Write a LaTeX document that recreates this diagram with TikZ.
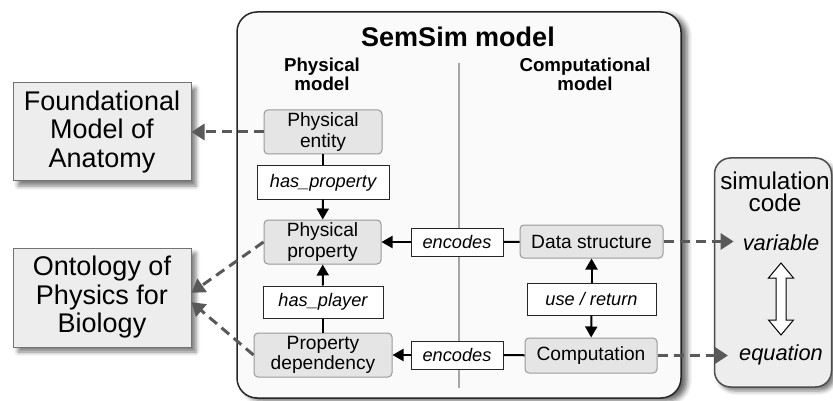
\documentclass[tikz,border=0pt]{standalone}
\usepackage{fontspec}
\setmainfont{Liberation Sans}
\usetikzlibrary{arrows.meta,shadows.blur}
\begin{document}
\begin{tikzpicture}[x=1pt,y=-1pt,
 every node/.style={align=center, inner sep=0pt},
 gbox/.style={draw=black!40, fill=black!10, rounded corners=4pt, line width=1pt, font=\fontsize{19.2}{20.5}\selectfont},
 lbox/.style={draw=black!85, fill=white, line width=1pt, font=\fontsize{18.2}{20}\selectfont\itshape},
 obox/.style={draw=black!55, fill=black!7, line width=1pt, font=\fontsize{27}{28.5}\selectfont, blur shadow={shadow xshift=5pt, shadow yshift=-5pt, shadow blur radius=4pt, shadow opacity=50}},
 conn/.style={line width=2pt, draw=black},
 tip/.style={-{Triangle[length=11pt,width=12pt]}},
 dconn/.style={line width=3pt, draw=black!65, dash pattern=on 10pt off 6pt, -{Triangle[length=13pt,width=16pt,fill=black!65]}},
 head/.style={font=\fontsize{18.7}{17}\selectfont\bfseries},
]
\useasboundingbox (0,0) rectangle (833,401);
% main box
\node[draw=black!85, line width=1.5pt, fill=black!2, rounded corners=20pt, minimum width=444pt, minimum height=386pt, blur shadow={shadow xshift=6pt, shadow yshift=-3pt, shadow blur radius=5pt, shadow opacity=60}] (sem) at (459,205) {};
\node[font=\fontsize{27}{28}\selectfont\bfseries] (title) at (458,37) {SemSim model};
\node[head] (phm) at (322,74.5) {Physical\\model};
\node[head] (cpm) at (585,74.5) {Computational\\model};
\draw[black!35, line width=2pt] (459,63) -- (459,388);
% simulation code box
\node[draw=black!70, fill=black!7, line width=1.5pt, rounded corners=16pt, minimum width=117pt, minimum height=229pt, blur shadow={shadow xshift=4pt, shadow yshift=-4pt, shadow blur radius=4pt, shadow opacity=50}] (sim) at (773,272.5) {};
\node[font=\fontsize{24.3}{22}\selectfont] (simt) at (775,192) {simulation\\code};
\node[font=\fontsize{21.8}{22}\selectfont\itshape, inner xsep=9pt] (var) at (781,243) {variable};
\node[font=\fontsize{21.8}{22}\selectfont\itshape, inner xsep=11pt] (eqn) at (781,355) {equation};
\draw[black, line width=1pt, fill=white] (781,263) -- (793.5,278) -- (786,278) -- (786,320) -- (793.5,320) -- (781,335) -- (768.5,320) -- (776,320) -- (776,278) -- (768.5,278) -- cycle;
% outer boxes
\node[obox, minimum width=178pt, minimum height=98pt] (fma) at (102,132) {Foundational\\Model of\\Anatomy};
\node[obox, minimum width=178pt, minimum height=99pt] (opb) at (102,297.5) {Ontology of\\Physics for\\Biology};
% inner nodes
\node[gbox, minimum width=118pt, minimum height=44pt] (pe) at (323,132) {Physical\\entity};
\node[lbox, minimum width=132pt, minimum height=33pt] (hp) at (323,182.5) {has\_property};
\node[gbox, minimum width=117pt, minimum height=44pt] (pp) at (322.5,242) {Physical\\property};
\node[lbox, minimum width=120pt, minimum height=32pt] (hpl) at (323,302) {has\_player};
\node[gbox, minimum width=138pt, minimum height=44pt] (pd) at (323,355) {Property\\dependency};
\node[lbox, minimum width=92pt, minimum height=28pt] (enc1) at (457,242) {encodes};
\node[gbox, minimum width=143pt, minimum height=33pt] (ds) at (591.5,241.5) {Data structure};
\node[lbox, minimum width=129pt, minimum height=32pt] (ur) at (591.5,299) {use / return};
\node[gbox, minimum width=132pt, minimum height=35pt] (comp) at (591,355.5) {Computation};
\node[lbox, minimum width=92pt, minimum height=28pt] (enc2) at (457,355) {encodes};
% solid connectors
\draw[conn] (pe) -- (hp);
\draw[conn, tip] (hp) -- (pp);
\draw[conn] (pd) -- (hpl);
\draw[conn, tip] (hpl) -- (pp);
\draw[conn] (ds) -- (enc1);
\draw[conn, tip] (enc1) -- (pp);
\draw[conn] (comp) -- (enc2);
\draw[conn, tip] (enc2) -- (pd);
\draw[conn, tip] (ur) -- (ds);
\draw[conn, tip] (ur) -- (comp);
% dashed connectors
\draw[dconn] (pe.west) -- (fma.east);
\draw[dconn] (pp.west) -- (opb.3);
\draw[dconn] (pd.west) -- (opb.-3);
\draw[dconn] (ds.east) -- (ds.east -| var.west);
\draw[dconn] (comp.east) -- (comp.east -| eqn.west);
\end{tikzpicture}
\end{document}
